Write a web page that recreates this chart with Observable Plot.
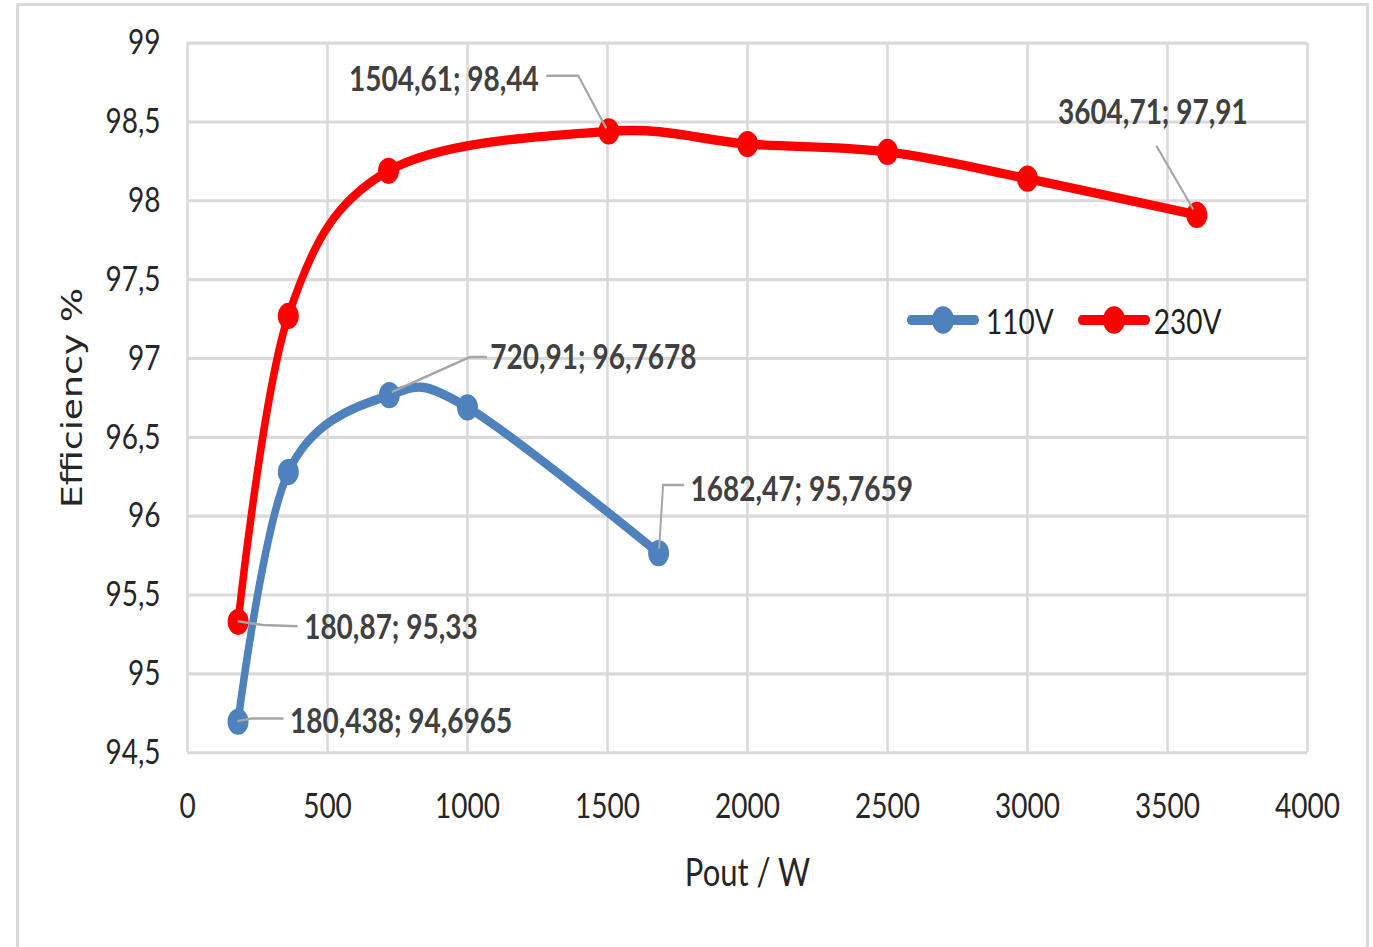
<!DOCTYPE html>
<html>
<head>
<meta charset="utf-8">
<script src="https://cdn.jsdelivr.net/npm/d3@7"></script>
<script src="https://cdn.jsdelivr.net/npm/@observablehq/plot@0.6"></script>
<style>
  html, body { margin: 0; padding: 0; background: #ffffff; overflow: hidden; }
  #wrap { position: relative; width: 1373px; height: 947px; overflow: hidden; }
  #border { position: absolute; left: 16px; top: 3px; width: 1347px; height: 1000px; border: 3px solid #dadada; }
  #chart { position: absolute; left: 0; top: 0; }
  #legend { position: absolute; left: 906px; top: 303px; height: 34px; display: flex; align-items: center;
            transform: scaleY(1.2493); transform-origin: center; font-family: Lato, "Open Sans", sans-serif;
            font-size: 28px; color: #1f1f1f; line-height: 34px; white-space: nowrap; }
  #legend .item { display: flex; align-items: center; }
  #legend svg { display: block; }
</style>
</head>
<body>
<div id="wrap">
  <div id="border"></div>
  <div id="chart"></div>
  <div id="legend"></div>
</div>
<script>
// ---- data ----
const seriesNames = ["110V", "230V"];
const seriesColors = ["#4f81bd", "#ff0000"];
const pout110 = [180.438, 360, 720.91, 1000, 1682.47];
const eff110  = [94.6965, 96.28, 96.7678, 96.69, 95.7659];
const pout230 = [180.87, 360, 718, 1504.61, 2000, 2500, 3000, 3604.71];
const eff230  = [95.33, 97.27, 98.19, 98.44, 98.36, 98.31, 98.14, 97.91];
const labeled110 = [0, 2, 4];
const labeled230 = [0, 3, 7];
const xTicks = [0, 500, 1000, 1500, 2000, 2500, 3000, 3500, 4000];
const yTicks = [94.5, 95, 95.5, 96, 96.5, 97, 97.5, 98, 98.5, 99];
const xTitle = "Pout / W";
const yTitle = "Efficiency %";

// ---- build ----
const fmt = v => String(v).replace(".", ",");
const data110 = pout110.map((x, i) => ({x, y: eff110[i]}));
const data230 = pout230.map((x, i) => ({x, y: eff230[i]}));

const W = 1373, H = 758; // drawn at H, stretched to 947 px tall

// annotation layout (pixel offsets, internal units)
const annots = [
  {d: data110[labeled110[0]], anchor: "start",  dx: 52,  dy: 0,     leader: [[0,0],[14,-2],[46,-2]]},
  {d: data110[labeled110[1]], anchor: "start",  dx: 101, dy: -29.6, leader: [[3,-2],[81,-30],[98,-30]]},
  {d: data110[labeled110[2]], anchor: "start",  dx: 32,  dy: -51,   leader: [[1,-3],[5,-54],[26,-54]]},
  {d: data230[labeled230[0]], anchor: "start",  dx: 66,  dy: 5,     leader: [[0,0],[25,3],[60,4]]},
  {d: data230[labeled230[1]], anchor: "end",    dx: -70, dy: -41.6, leader: [[-2,-2],[-30,-44],[-62,-44]]},
  {d: data230[labeled230[2]], anchor: "middle", dx: -44, dy: -81.6, leader: [[-40,-55],[-3,-4]]}
];

const labelMarks = annots.map(a => Plot.text([a.d], {
  x: "x", y: "y", text: d => `${fmt(d.x)}; ${fmt(d.y)}`,
  dx: a.dx, dy: a.dy, textAnchor: a.anchor,
  fontWeight: "bold", fontSize: 28, fill: "#404040", fontFamily: "Lato, 'Open Sans', sans-serif",
  ariaLabel: "data-label"
}));

const chart = Plot.plot({
  width: W, height: H,
  marginLeft: 187, marginRight: 66, marginTop: 34, marginBottom: 156,
  style: {fontFamily: "Lato, 'Open Sans', sans-serif", fontSize: "28px", color: "#262626", background: "transparent"},
  x: {domain: [0, 4000]},
  y: {domain: [94.5, 99]},
  marks: [
    Plot.gridX({ticks: xTicks, stroke: "#d9d9d9", strokeOpacity: 1, strokeWidth: 2.5}),
    Plot.gridY({ticks: yTicks, stroke: "#d9d9d9", strokeOpacity: 1, strokeWidth: 2.5}),
    Plot.axisX({ticks: xTicks, tickSize: 0, tickPadding: 32, tickFormat: d => String(d), label: null, fontSize: 28, fill: "#262626"}),
    Plot.axisY({ticks: yTicks, tickSize: 0, tickPadding: 27, tickFormat: fmt, label: null, fontSize: 28, fill: "#262626"}),
    Plot.text([yTitle], {frameAnchor: "left", text: d => d, rotate: -90, dx: -115, textAnchor: "middle", lineAnchor: "middle",
      fontSize: 29, fontFamily: "'DejaVu Sans', Verdana, sans-serif", fill: "#262626"}),
    Plot.text([xTitle], {frameAnchor: "bottom", text: d => d, dy: 97, textAnchor: "middle", lineAnchor: "middle",
      fontSize: 31, fill: "#262626"}),
    Plot.line(data230, {x: "x", y: "y", stroke: seriesColors[1], strokeWidth: 7.5, curve: "cardinal", strokeLinejoin: "round"}),
    Plot.dot(data230, {x: "x", y: "y", r: 10.5, fill: seriesColors[1], stroke: "none"}),
    Plot.line(data110, {x: "x", y: "y", stroke: seriesColors[0], strokeWidth: 7.5, curve: "cardinal", strokeLinejoin: "round"}),
    Plot.dot(data110, {x: "x", y: "y", r: 10.5, fill: seriesColors[0], stroke: "none"}),
    ...labelMarks
  ]
});

chart.setAttribute("viewBox", `0 0 ${W} ${H}`);
chart.setAttribute("preserveAspectRatio", "none");
chart.setAttribute("width", W);
chart.setAttribute("height", 947);
chart.style.width = W + "px";
chart.style.height = "947px";
chart.style.maxWidth = "none";
chart.style.overflow = "visible";
document.getElementById("chart").append(chart);

// leader lines through the plot's own scales
const sx = chart.scale("x"), sy = chart.scale("y");
const firstLabel = chart.querySelector('g[aria-label="data-label"]');
const lg = document.createElementNS("http://www.w3.org/2000/svg", "g");
lg.setAttribute("aria-label", "leaders");
chart.insertBefore(lg, firstLabel);
annots.forEach(a => {
  const px = sx.apply(a.d.x), py = sy.apply(a.d.y);
  d3.select(lg).append("path")
    .attr("d", d3.line()(a.leader.map(([ox, oy]) => [px + ox, py + oy])))
    .attr("fill", "none").attr("stroke", "#a6a6a6").attr("stroke-width", 2);
});

// white boxes behind data labels
chart.querySelectorAll('g[aria-label="data-label"] text').forEach(t => {
  const b = t.getBBox();
  const r = document.createElementNS("http://www.w3.org/2000/svg", "rect");
  r.setAttribute("x", b.x - 7); r.setAttribute("y", b.y - 1);
  r.setAttribute("width", b.width + 14); r.setAttribute("height", b.height + 2);
  r.setAttribute("fill", "#ffffff");
  const tr = t.getAttribute("transform");
  if (tr) r.setAttribute("transform", tr);
  t.parentNode.insertBefore(r, t);
});

// legend
const legend = document.getElementById("legend");
seriesNames.forEach((name, i) => {
  const item = document.createElement("div");
  item.className = "item";
  item.style.marginLeft = i === 0 ? "0px" : "23px";
  const sw = d3.create("svg").attr("width", 74).attr("height", 34);
  sw.append("line").attr("x1", 5).attr("x2", 69).attr("y1", 17).attr("y2", 17)
    .attr("stroke", seriesColors[i]).attr("stroke-width", 8).attr("stroke-linecap", "round");
  sw.append("circle").attr("cx", 37).attr("cy", 17).attr("r", 11).attr("fill", seriesColors[i]);
  item.append(sw.node());
  const span = document.createElement("span");
  span.textContent = name;
  span.style.marginLeft = i === 0 ? "6px" : "3px";
  item.append(span);
  legend.append(item);
});
</script>
</body>
</html>
